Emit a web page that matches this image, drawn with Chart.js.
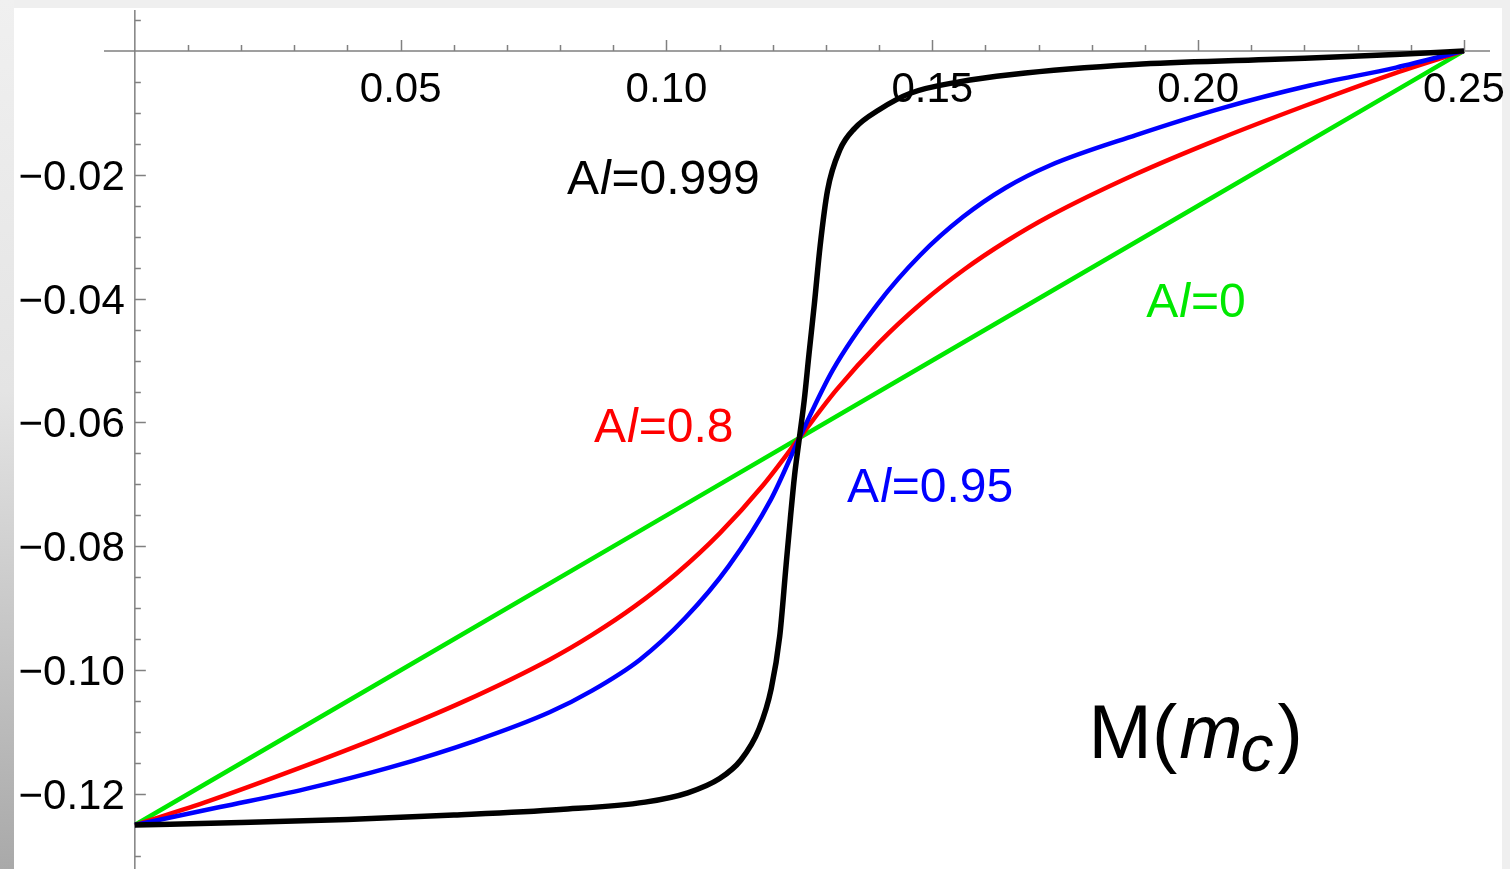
<!DOCTYPE html>
<html>
<head>
<meta charset="utf-8">
<script src="https://cdn.jsdelivr.net/npm/chart.js@4"></script>
<style>
  html, body { margin: 0; padding: 0; background: #fff; }
  canvas { display: block; }
</style>
</head>
<body>
<canvas id="mass-curves" width="1510" height="869"></canvas>
<script>
// M(m_c) for several values of A/l
var xBlack = [0, 0.020, 0.040, 0.060, 0.080, 0.096, 0.104, 0.110, 0.114, 0.1174, 0.1197, 0.1213, 0.1225, 0.1233, 0.1241, 0.125,
  0.1259, 0.1268, 0.1278, 0.1289, 0.1303, 0.1326, 0.1354, 0.140, 0.146, 0.155, 0.165, 0.188, 0.213, 0.237, 0.25];
var yBlack = [-0.125, -0.1246, -0.1241, -0.1234, -0.1225, -0.1213, -0.1198, -0.1175, -0.1145, -0.1095, -0.1030, -0.0945, -0.0830, -0.0755, -0.0685, -0.0625,
  -0.0565, -0.0490, -0.0410, -0.0315, -0.0225, -0.0160, -0.0125, -0.0095, -0.0068, -0.0050, -0.0038, -0.0022, -0.0014, -0.0006, 0];

var xBlue = [0, 0.016, 0.032, 0.048, 0.064, 0.078, 0.086, 0.095, 0.1036, 0.1117, 0.1196, 0.125,
  0.1313, 0.1396, 0.1477, 0.1558, 0.1638, 0.1721, 0.1883, 0.2047, 0.221, 0.2372, 0.25];
var yBlue = [-0.125, -0.1221, -0.1192, -0.1157, -0.1114, -0.1068, -0.1033, -0.0983, -0.0915, -0.0832, -0.0725, -0.0625,
  -0.0515, -0.0410, -0.0330, -0.0268, -0.0221, -0.0185, -0.0136, -0.0092, -0.0056, -0.0027, 0];

var xRed = [0, 0.014, 0.030, 0.046, 0.062, 0.078, 0.086, 0.094, 0.102, 0.110, 0.118, 0.125,
  0.132, 0.140, 0.148, 0.156, 0.164, 0.172, 0.188, 0.204, 0.220, 0.236, 0.25];
var yRed = [-0.125, -0.1211, -0.1161, -0.1108, -0.1050, -0.0983, -0.0943, -0.0897, -0.0843, -0.0779, -0.0703, -0.0625,
  -0.0547, -0.0471, -0.0407, -0.0353, -0.0307, -0.0267, -0.0200, -0.0142, -0.0089, -0.0039, 0];

var xGreen = [0, 0.05, 0.10, 0.15, 0.20, 0.25];
var yGreen = [-0.125, -0.100, -0.075, -0.050, -0.025, 0];

var xTicks = [0.05, 0.10, 0.15, 0.20, 0.25];
var xTickLabels = ['0.05', '0.10', '0.15', '0.20', '0.25'];
var yTicks = [-0.02, -0.04, -0.06, -0.08, -0.10, -0.12];
var yTickLabels = ['\u22120.02', '\u22120.04', '\u22120.06', '\u22120.08', '\u22120.10', '\u22120.12'];

var curveLabels = ['0.999', '0.95', '0.8', '0'];

var GREEN = 'rgb(0,232,0)';
var FONT = '"Liberation Sans", Arial, Helvetica, sans-serif';

function toPoints(xs, ys) {
  return xs.map(function (x, i) { return { x: x, y: ys[i] }; });
}

// gray window frame around the white plot
var frame = {
  id: 'frame',
  beforeDraw: function (chart) {
    var ctx = chart.ctx, w = chart.width, h = chart.height;
    ctx.save();
    ctx.fillStyle = '#fff';
    ctx.fillRect(0, 0, w, h);
    ctx.fillStyle = '#efefef';
    ctx.fillRect(0, 0, w, 8);
    ctx.fillRect(w - 8, 0, 8, h);
    var g = ctx.createLinearGradient(0, 0, 0, h);
    g.addColorStop(0, '#f0f0f0');
    g.addColorStop(0.45, '#e4e4e4');
    g.addColorStop(1, '#a9a9a9');
    ctx.fillStyle = g;
    ctx.fillRect(0, 0, 14, h);
    ctx.restore();
  }
};

// axes through the origin with ticks and numbers
var axes = {
  id: 'axes',
  beforeDatasetsDraw: function (chart) {
    var ctx = chart.ctx, a = chart.chartArea;
    var xs = chart.scales.x, ys = chart.scales.y;
    var x0 = xs.getPixelForValue(0), y0 = ys.getPixelForValue(0);
    ctx.save();
    ctx.strokeStyle = '#808080';
    ctx.lineWidth = 1.5;
    ctx.beginPath();
    ctx.moveTo(a.left, y0); ctx.lineTo(a.right, y0);
    ctx.moveTo(x0, a.top); ctx.lineTo(x0, a.bottom);
    for (var i = 1; i <= 25; i++) {
      var px = Math.round(xs.getPixelForValue(i * 0.01)) + 0.5;
      var len = i % 5 === 0 ? 11 : 6;
      ctx.moveTo(px, y0); ctx.lineTo(px, y0 - len);
    }
    for (var k = 1; k >= -26; k--) {
      if (k === 0) continue;
      var py = Math.round(ys.getPixelForValue(k * 0.005)) + 0.5;
      var ln = k % 4 === 0 ? 11 : 6;
      ctx.moveTo(x0, py); ctx.lineTo(x0 + ln, py);
    }
    ctx.stroke();

    ctx.fillStyle = '#000';
    ctx.font = '42px ' + FONT;
    ctx.textBaseline = 'alphabetic';
    ctx.textAlign = 'center';
    xTicks.forEach(function (v, i) {
      ctx.fillText(xTickLabels[i], xs.getPixelForValue(v), y0 + 51);
    });
    ctx.textAlign = 'right';
    yTicks.forEach(function (v, i) {
      ctx.fillText(yTickLabels[i], x0 - 10, ys.getPixelForValue(v) + 15);
    });
    ctx.restore();
  }
};

// draws a run of text pieces, each with its own font and baseline shift
function drawRuns(ctx, runs, x, y, align) {
  var total = 0;
  runs.forEach(function (r) { ctx.font = r.font; r.w = ctx.measureText(r.text).width + (r.dx || 0); total += r.w; });
  var cx = align === 'center' ? x - total / 2 : x;
  ctx.textAlign = 'left';
  ctx.textBaseline = 'alphabetic';
  runs.forEach(function (r) {
    ctx.font = r.font;
    ctx.fillText(r.text, cx + (r.dx || 0), y + (r.dy || 0));
    cx += r.w;
  });
}

function alRuns(value) {
  return [
    { text: 'A', font: '48px ' + FONT },
    { text: 'l', font: 'italic 48px ' + FONT, dx: 1 },
    { text: '=' + value, font: '48px ' + FONT, dx: 1 }
  ];
}

var labels = {
  id: 'labels',
  afterDatasetsDraw: function (chart) {
    var ctx = chart.ctx, xs = chart.scales.x, ys = chart.scales.y;
    ctx.save();
    var spots = [
      { x: 0.0994, y: -0.0231, color: '#000' },
      { x: 0.1496, y: -0.0729, color: '#0000ff' },
      { x: 0.0995, y: -0.0632, color: '#ff0000' },
      { x: 0.1996, y: -0.0430, color: GREEN }
    ];
    spots.forEach(function (s, i) {
      ctx.fillStyle = s.color;
      drawRuns(ctx, alRuns(curveLabels[i]), xs.getPixelForValue(s.x), ys.getPixelForValue(s.y), 'center');
    });
    ctx.fillStyle = '#000';
    drawRuns(ctx, [
      { text: 'M(', font: '76px ' + FONT },
      { text: 'm', font: 'italic 76px ' + FONT, dx: 2 },
      { text: 'c', font: 'italic 66px ' + FONT, dx: -2, dy: 13 },
      { text: ')', font: '76px ' + FONT, dx: 4 }
    ], xs.getPixelForValue(0.1794), ys.getPixelForValue(-0.1141), 'left');
    ctx.restore();
  }
};

new Chart(document.getElementById('mass-curves'), {
  type: 'line',
  data: {
    datasets: [
      { label: 'A/l=0.999', data: toPoints(xBlack, yBlack), borderColor: '#000', borderWidth: 5.5, cubicInterpolationMode: 'monotone' },
      { label: 'A/l=0.95', data: toPoints(xBlue, yBlue), borderColor: '#0000ff', borderWidth: 4.5, cubicInterpolationMode: 'monotone' },
      { label: 'A/l=0.8', data: toPoints(xRed, yRed), borderColor: '#ff0000', borderWidth: 4.5, cubicInterpolationMode: 'monotone' },
      { label: 'A/l=0', data: toPoints(xGreen, yGreen), borderColor: GREEN, borderWidth: 4.5, tension: 0 }
    ]
  },
  options: {
    responsive: false,
    animation: false,
    devicePixelRatio: 1,
    layout: { padding: { left: 104, right: 20, top: 10, bottom: 0 } },
    elements: { point: { radius: 0, hoverRadius: 0 } },
    plugins: { legend: { display: false }, tooltip: { enabled: false } },
    scales: {
      x: { type: 'linear', min: -0.0058, max: 0.2549, display: false },
      y: { type: 'linear', min: -0.1321, max: 0.0066, display: false }
    }
  },
  plugins: [frame, axes, labels]
});
</script>
</body>
</html>
